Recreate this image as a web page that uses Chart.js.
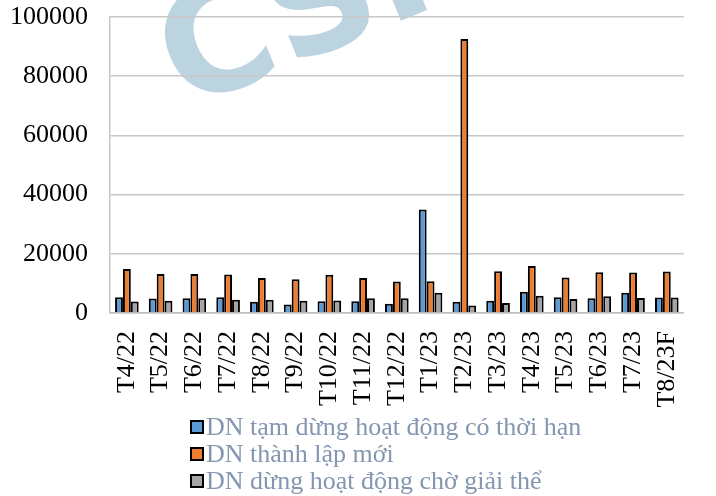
<!DOCTYPE html>
<html>
<head>
<meta charset="utf-8">
<script src="https://cdn.jsdelivr.net/npm/chart.js@4"></script>
<style>
  html, body { margin: 0; padding: 0; background: #fff; }
  #wrap { position: relative; width: 716px; height: 496px; }
  #legend {
    position: absolute; left: 190px; top: 413px;
    font-family: "Liberation Serif", serif; font-size: 26px; color: #8496b0;
  }
  #legend div { display: flex; align-items: center; height: 27px; white-space: nowrap; }
  #legend span.box {
    display: inline-block; width: 10px; height: 10px; border: 2px solid #000;
    margin-right: 2px;
  }
</style>
</head>
<body>
<div id="wrap">
  <canvas id="chart" width="716" height="496"></canvas>
  <div id="legend"></div>
</div>
<script>
// Month labels (T = tháng)
const months = ['T4/22', 'T5/22', 'T6/22', 'T7/22', 'T8/22', 'T9/22', 'T10/22', 'T11/22',
  'T12/22', 'T1/23', 'T2/23', 'T3/23', 'T4/23', 'T5/23', 'T6/23', 'T7/23', 'T8/23F'];

// DN tạm dừng hoạt động có thời hạn
const tamDung = [5300, 4900, 5000, 5300, 3800, 2900, 4000, 4000,
  3100, 35000, 3800, 4100, 7200, 5300, 5000, 6800, 5200];

// DN thành lập mới
const thanhLap = [14900, 13200, 13200, 13000, 11800, 11400, 12900, 11800,
  10600, 10700, 92600, 14100, 15900, 12000, 13800, 13700, 14000];

// DN dừng hoạt động chờ giải thể
const choGiaiThe = [3900, 4100, 5000, 4500, 4500, 4100, 4200, 5000,
  5000, 6800, 2500, 3400, 5800, 4700, 5700, 5100, 5200];

const yTicks = [0, 20000, 40000, 60000, 80000, 100000];

const serif = '"Liberation Serif", "Times New Roman", serif';

function makeSet(label, data, color) {
  return {
    label,
    data,
    backgroundColor: color,
    borderColor: '#000',
    borderWidth: 2,
    borderSkipped: 'bottom',
    categoryPercentage: 0.7,
    barPercentage: 1,
  };
}

// faint logo watermark behind the plot
const watermark = {
  id: 'watermark',
  beforeDraw(chart) {
    const ctx = chart.ctx;
    ctx.save();
    ctx.translate(184, 110);
    ctx.rotate(-0.39);
    ctx.font = 'bold 150px "DejaVu Sans", sans-serif';
    ctx.fillStyle = '#bcd4e0';
    ctx.textBaseline = 'alphabetic';
    ctx.textAlign = 'left';
    ctx.fillText('CSI', 0, 0);
    ctx.restore();
  },
};

/* global Chart */
const chart = new Chart(document.getElementById('chart'), {
  type: 'bar',
  data: {
    labels: months,
    datasets: [
      makeSet('DN tạm dừng hoạt động có thời hạn', tamDung, '#5b9bd5'),
      makeSet('DN thành lập mới', thanhLap, '#ed7d31'),
      makeSet('DN dừng hoạt động chờ giải thể', choGiaiThe, '#a5a5a5'),
    ],
  },
  options: {
    responsive: false,
    animation: false,
    layout: { padding: 0 },
    plugins: {
      legend: { display: false },
      tooltip: { enabled: false },
    },
    scales: {
      x: {
        grid: { display: false, drawTicks: false },
        border: { color: '#bfbfbf', width: 1.5 },
        ticks: {
          color: '#000',
          font: { family: serif, size: 26 },
          maxRotation: 90,
          minRotation: 90,
          padding: 18,
          autoSkip: false,
        },
        afterFit(scale) { scale.height = 183; },
      },
      y: {
        min: 0,
        max: 100000,
        afterBuildTicks(scale) { scale.ticks = yTicks.map((v) => ({ value: v })); },
        grid: { color: '#c8c8c8', lineWidth: 1.5, drawTicks: false },
        border: { color: '#c8c8c8', width: 1.5 },
        ticks: {
          color: '#000',
          font: { family: serif, size: 26 },
          padding: 22,
          callback: (v) => String(v),
        },
        afterFit(scale) {
          scale.width = 110;
          scale.paddingTop = 17;
          scale.paddingBottom = 0;
        },
      },
    },
  },
  plugins: [watermark],
});

// vertical legend under the chart
const legendEl = document.getElementById('legend');
chart.data.datasets.forEach((ds) => {
  const row = document.createElement('div');
  const box = document.createElement('span');
  box.className = 'box';
  box.style.background = ds.backgroundColor;
  row.appendChild(box);
  row.appendChild(document.createTextNode(ds.label));
  legendEl.appendChild(row);
});
</script>
</body>
</html>
